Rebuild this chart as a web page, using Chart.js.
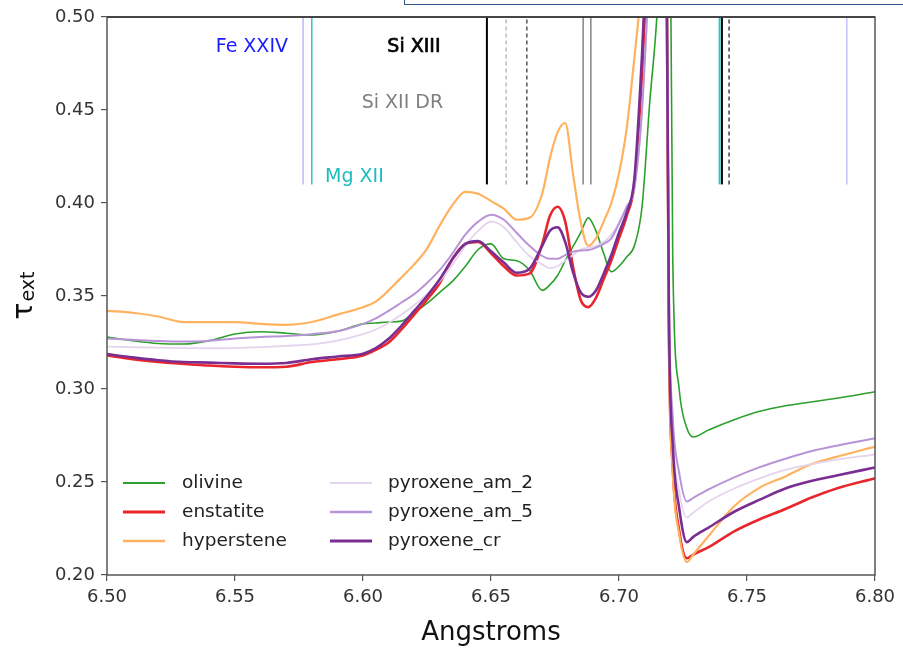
<!DOCTYPE html>
<html>
<head>
<meta charset="utf-8">
<script src="https://cdn.jsdelivr.net/npm/chart.js@4.4.0/dist/chart.umd.min.js"></script>
<style>
  html, body { margin: 0; padding: 0; background: #fff; }
  #wrap { position: relative; width: 903px; height: 649px; overflow: hidden; }
  #wrap canvas { position: absolute; left: 0; top: 0; }
  #tab { position: absolute; left: 404px; top: -12px; width: 520px; height: 15px; border: 1.5px solid #34598f; }
</style>
</head>
<body>
<div id="wrap">
  <canvas id="ext-chart" width="903" height="649"></canvas>
  <div id="tab"></div>
</div>
<script>
// wavelength grid (Angstrom), finer around the Si K edge
const wavelength = [6.500, 6.510, 6.520, 6.530, 6.540, 6.550, 6.560, 6.570, 6.580, 6.590,
  6.600, 6.605, 6.610, 6.615, 6.620, 6.625, 6.630, 6.635, 6.640, 6.645,
  6.650, 6.655, 6.660, 6.665, 6.670, 6.673, 6.676, 6.679, 6.682, 6.685,
  6.688, 6.691, 6.694, 6.697, 6.700, 6.703, 6.706, 6.709, 6.712, 6.715,
  6.717, 6.7185, 6.7195, 6.721, 6.7235, 6.7265, 6.729, 6.735, 6.745, 6.755,
  6.765, 6.775, 6.785, 6.800];

// extinction optical depth per dust species
const olivine = [0.328, 0.326, 0.3245, 0.3242, 0.326, 0.3296, 0.3308, 0.330, 0.329, 0.331,
  0.335, 0.3355, 0.336, 0.3365, 0.341, 0.346, 0.352, 0.358, 0.366, 0.375,
  0.378, 0.370, 0.369, 0.364, 0.353, 0.356, 0.361, 0.369, 0.3765, 0.384,
  0.392, 0.385, 0.373, 0.363, 0.366, 0.371, 0.377, 0.398, 0.454, 0.505,
  0.57, 0.62, 0.62, 0.37, 0.300, 0.279, 0.2742, 0.278, 0.2835, 0.288,
  0.291, 0.293, 0.295, 0.2985];
const enstatite = [0.318, 0.316, 0.3145, 0.3135, 0.3126, 0.312, 0.3117, 0.312, 0.3145, 0.316,
  0.318, 0.321, 0.325, 0.332, 0.340, 0.348, 0.357, 0.370, 0.378, 0.379,
  0.373, 0.366, 0.361, 0.362, 0.378, 0.393, 0.398, 0.390, 0.366, 0.348,
  0.344, 0.349, 0.359, 0.369, 0.381, 0.393, 0.410, 0.465, 0.56, 0.63,
  0.65, 0.55, 0.33, 0.258, 0.224, 0.209, 0.211, 0.215, 0.2235, 0.230,
  0.2355, 0.2415, 0.2465, 0.252];
const hyperstene = [0.342, 0.341, 0.339, 0.336, 0.336, 0.336, 0.335, 0.3345, 0.336, 0.340,
  0.344, 0.347, 0.353, 0.360, 0.367, 0.3755, 0.388, 0.399, 0.406, 0.405,
  0.401, 0.397, 0.391, 0.392, 0.405, 0.424, 0.438, 0.443, 0.416, 0.390,
  0.377, 0.381, 0.390, 0.400, 0.416, 0.440, 0.478, 0.52, 0.58, 0.63,
  0.65, 0.55, 0.33, 0.255, 0.222, 0.207, 0.211, 0.221, 0.237, 0.247,
  0.253, 0.2595, 0.2635, 0.269];
const pyroxeneAm2 = [0.3228, 0.3225, 0.3222, 0.322, 0.3219, 0.322, 0.3225, 0.3232, 0.324, 0.326,
  0.3295, 0.332, 0.3355, 0.340, 0.345, 0.351, 0.358, 0.367, 0.377, 0.385,
  0.390, 0.387, 0.379, 0.3715, 0.367, 0.365, 0.366, 0.369, 0.372, 0.375,
  0.376, 0.377, 0.379, 0.383, 0.389, 0.397, 0.408, 0.45, 0.53, 0.61,
  0.64, 0.55, 0.345, 0.275, 0.245, 0.231, 0.2335, 0.2395, 0.2465, 0.252,
  0.2565, 0.2595, 0.262, 0.2648];
const pyroxeneAm5 = [0.3272, 0.3265, 0.3258, 0.3255, 0.326, 0.3272, 0.328, 0.3285, 0.3295, 0.331,
  0.335, 0.338, 0.342, 0.3465, 0.351, 0.357, 0.364, 0.373, 0.383, 0.390,
  0.3937, 0.391, 0.384, 0.377, 0.3715, 0.370, 0.370, 0.372, 0.3738, 0.3745,
  0.3747, 0.376, 0.378, 0.381, 0.389, 0.398, 0.408, 0.45, 0.53, 0.61,
  0.64, 0.55, 0.35, 0.285, 0.255, 0.2395, 0.2415, 0.246, 0.2525, 0.258,
  0.2625, 0.2665, 0.2695, 0.2735];
const pyroxeneCr = [0.3188, 0.317, 0.3155, 0.3145, 0.3142, 0.3138, 0.3136, 0.314, 0.316, 0.3175,
  0.319, 0.322, 0.327, 0.334, 0.342, 0.350, 0.359, 0.370, 0.378, 0.3795,
  0.374, 0.368, 0.3625, 0.3645, 0.377, 0.385, 0.387, 0.379, 0.363, 0.352,
  0.3496, 0.353, 0.362, 0.372, 0.384, 0.395, 0.413, 0.48, 0.57, 0.63,
  0.65, 0.55, 0.34, 0.27, 0.236, 0.2177, 0.2205, 0.2255, 0.234, 0.2405,
  0.2465, 0.2505, 0.2535, 0.2578];

// atomic line positions (Angstrom), drawn from tau 0.41 up to the top
const lineWl = [6.5766, 6.580, 6.6484, 6.6559, 6.664, 6.686, 6.689, 6.7393, 6.7402, 6.743, 6.789];
const lineSpan = [0.41, 0.50];

// ion labels and where they sit (wavelength, tau)
const ionNames = ['Fe XXIV', 'Si XIII', 'Si XII DR', 'Mg XII'];
const ionWl = [6.5707, 6.6095, 6.5995, 6.5852];
const ionTau = [0.4837, 0.4837, 0.4536, 0.4137];

const xTicks = [6.50, 6.55, 6.60, 6.65, 6.70, 6.75, 6.80];
const yTicks = [0.20, 0.25, 0.30, 0.35, 0.40, 0.45, 0.50];

// ---- styles ----
const lineStyles = [
  { color: '#b8b8ff', width: 1.5, dash: [] },
  { color: '#35c4c4', width: 1.5, dash: [] },
  { color: '#000000', width: 2, dash: [] },
  { color: '#a8a8a8', width: 1.2, dash: [4, 3] },
  { color: '#555555', width: 1.5, dash: [4, 3] },
  { color: '#8c8c8c', width: 1.6, dash: [] },
  { color: '#8c8c8c', width: 1.6, dash: [] },
  { color: '#25c8c8', width: 2, dash: [] },
  { color: '#000000', width: 2, dash: [] },
  { color: '#333333', width: 1.4, dash: [4, 3] },
  { color: '#b8b8ff', width: 1.3, dash: [] },
];
const ionStyles = [
  { color: '#1a1aff', align: 'right', bold: false },
  { color: '#000000', align: 'left', bold: true },
  { color: '#808080', align: 'left', bold: false },
  { color: '#1fbcbc', align: 'left', bold: false },
];

const species = [
  { label: 'olivine', data: olivine, color: '#2ca02c', width: 1.6 },
  { label: 'enstatite', data: enstatite, color: '#e8262b', width: 2.6 },
  { label: 'hyperstene', data: hyperstene, color: '#ffb25e', width: 2.2 },
  { label: 'pyroxene_am_2', data: pyroxeneAm2, color: '#e4d4ee', width: 1.8 },
  { label: 'pyroxene_am_5', data: pyroxeneAm5, color: '#b894d6', width: 2 },
  { label: 'pyroxene_cr', data: pyroxeneCr, color: '#7a2e92', width: 2.6 },
];

Chart.defaults.font.family = "'DejaVu Sans', sans-serif";

const markerSets = lineWl.map((w, i) => ({
  label: 'line' + i,
  data: [{ x: w, y: lineSpan[0] }, { x: w, y: lineSpan[1] }],
  borderColor: lineStyles[i].color,
  borderWidth: lineStyles[i].width,
  borderDash: lineStyles[i].dash,
  pointRadius: 0,
  order: 20,
  clip: 0,
  isMarker: true,
}));

const spectrumSets = species.map((s, i) => ({
  label: s.label,
  data: wavelength.map((w, k) => ({ x: w, y: s.data[k] })),
  borderColor: s.color,
  borderWidth: s.width,
  pointRadius: 0,
  cubicInterpolationMode: 'monotone',
  order: species.length - i,
  clip: 0,
}));

// axes box on all four sides
const frame = {
  id: 'frame',
  afterDatasetsDraw(chart) {
    const { ctx, chartArea: a } = chart;
    ctx.save();
    ctx.lineWidth = 1.5;
    ctx.strokeStyle = '#555';
    ctx.strokeRect(a.left, a.top, a.right - a.left, a.bottom - a.top);
    ctx.strokeStyle = '#333';
    ctx.beginPath();
    ctx.moveTo(a.left, a.top);
    ctx.lineTo(a.right, a.top);
    ctx.stroke();
    ctx.restore();
  }
};

// ion names next to the line markers
const ionText = {
  id: 'ionText',
  afterDatasetsDraw(chart) {
    const { ctx, scales: { x, y } } = chart;
    ctx.save();
    ctx.textBaseline = 'middle';
    ionNames.forEach((name, i) => {
      const st = ionStyles[i];
      ctx.font = '19px "DejaVu Sans"';
      ctx.fillStyle = st.color;
      ctx.textAlign = st.align;
      const px = x.getPixelForValue(ionWl[i]);
      const py = y.getPixelForValue(ionTau[i]);
      ctx.fillText(name, px, py);
      if (st.bold) {
        ctx.lineWidth = 0.7;
        ctx.strokeStyle = st.color;
        ctx.strokeText(name, px, py);
      }
    });
    ctx.restore();
  }
};

// tau_ext y title with subscript
const yTitle = {
  id: 'yTitle',
  afterDraw(chart) {
    const { ctx, chartArea: a } = chart;
    ctx.save();
    ctx.fillStyle = '#111';
    ctx.translate(32, (a.top + a.bottom) / 2);
    ctx.rotate(-Math.PI / 2);
    ctx.font = '28px "DejaVu Sans"';
    const wTau = ctx.measureText('τ').width;
    ctx.font = '19px "DejaVu Sans"';
    const wSub = ctx.measureText('ext').width;
    const start = -(wTau + wSub) / 2;
    ctx.textBaseline = 'alphabetic';
    ctx.textAlign = 'left';
    ctx.font = '28px "DejaVu Sans"';
    ctx.fillText('τ', start, 0);
    ctx.font = '19px "DejaVu Sans"';
    ctx.fillText('ext', start + wTau + 1, 2);
    ctx.restore();
  }
};

// two-column legend in the lower left of the axes
const sampleLegend = {
  id: 'sampleLegend',
  afterDraw(chart) {
    const { ctx } = chart;
    const cols = [{ x0: 123, x1: 165, tx: 182 }, { x0: 330, x1: 372, tx: 388 }];
    const rows = [483, 512, 541];
    ctx.save();
    ctx.font = '18.5px "DejaVu Sans"';
    ctx.textBaseline = 'middle';
    ctx.textAlign = 'left';
    chart.data.datasets.filter(d => !d.isMarker).forEach((d, i) => {
      const c = cols[Math.floor(i / 3)];
      const yy = rows[i % 3];
      ctx.strokeStyle = d.borderColor;
      ctx.lineWidth = d.borderWidth + 0.4;
      ctx.beginPath();
      ctx.moveTo(c.x0, yy);
      ctx.lineTo(c.x1, yy);
      ctx.stroke();
      ctx.fillStyle = '#222';
      ctx.fillText(d.label, c.tx, yy);
    });
    ctx.restore();
  }
};

const tickGrid = { display: true, drawOnChartArea: false, drawTicks: true, tickLength: 6, tickColor: '#555', lineWidth: 1.2 };

new Chart(document.getElementById('ext-chart'), {
  type: 'line',
  data: { datasets: [...markerSets, ...spectrumSets] },
  options: {
    responsive: false,
    animation: false,
    layout: { padding: { left: 0, top: 17, right: 28, bottom: 0 } },
    plugins: { legend: { display: false }, tooltip: { enabled: false } },
    scales: {
      x: {
        type: 'linear',
        min: xTicks[0],
        max: xTicks[xTicks.length - 1],
        afterBuildTicks: s => { s.ticks = xTicks.map(v => ({ value: v })); },
        ticks: { callback: v => v.toFixed(2), color: '#333', font: { size: 18 }, padding: 6, maxRotation: 0 },
        grid: tickGrid,
        border: { display: false },
        title: { display: true, text: 'Angstroms', color: '#111', font: { size: 26 }, padding: { top: 4, bottom: 0 } },
        afterFit: s => { s.height = 74; }
      },
      y: {
        min: yTicks[0],
        max: yTicks[yTicks.length - 1],
        afterBuildTicks: s => { s.ticks = yTicks.map(v => ({ value: v })); },
        ticks: { callback: v => v.toFixed(2), color: '#333', font: { size: 18 }, padding: 6 },
        grid: tickGrid,
        border: { display: false },
        afterFit: s => { s.width = 107; }
      }
    }
  },
  plugins: [frame, ionText, yTitle, sampleLegend]
});
</script>
</body>
</html>
